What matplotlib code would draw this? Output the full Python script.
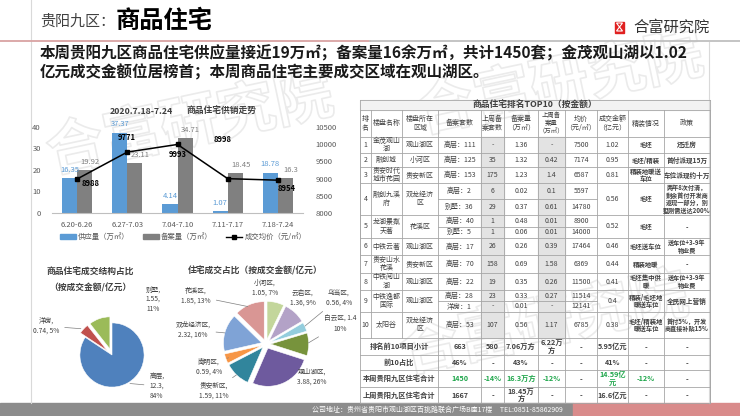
import numpy as np
import matplotlib.pyplot as plt
from matplotlib.patches import Rectangle, Polygon
from matplotlib.lines import Line2D
import matplotlib.patheffects as pe

plt.rcParams['font.family'] = ['Noto Sans CJK SC', 'DejaVu Sans']

# ---- weekly supply / sales trend
weeks = ['6.20-6.26', '6.27-7.03', '7.04-7.10', '7.11-7.17', '7.18-7.24']
supply = [16.35, 37.37, 4.14, 1.07, 18.78]      # 供应量（万㎡）
filed = [19.92, 23.11, 34.71, 18.45, 16.3]      # 备案量（万㎡）
price = [8988, 9771, 9993, 8998, 8954]          # 成交均价（元/㎡）

# ---- deal structure by type (亿元)
type_names = ['高层', '洋房', '别墅']
type_amount = [12.3, 0.74, 1.55]
type_pct = ['84%', '5%', '11%']

# ---- deal share by district (亿元)
dist_names = ['小河区', '云岩区', '乌当区', '白云区', '观山湖区', '贵安新区', '南明区', '双龙经济区', '花溪区']
dist_amount = [1.05, 1.36, 0.56, 1.4, 3.88, 1.59, 0.59, 2.32, 1.85]
dist_pct = ['7%', '9%', '4%', '10%', '26%', '11%', '4%', '16%', '13%']

# ---- TOP10 table
tbl_header = ['排\n名', '楼盘名称', '楼盘所在\n区域', '备案套数', '上周备\n案套数', '备案量\n（万㎡）',
              '上周备\n案量\n（万㎡）', '均价\n（元/㎡）', '成交金额\n（亿元）', '精装情况', '政策']
rank = ['1', '2', '3', '4', '5', '6', '7', '8', '9', '10']
proj = ['金茂观山\n湖', '融创城', '贵安时代\n城市花园', '融创九溪\n府', '龙湖景粼\n天著', '中铁云著',
        '贵安山水\n花溪', '中铁阅山\n湖', '中铁逸都\n国际', '太阳谷']
area = ['观山湖区', '小河区', '贵安新区', '双龙经济\n区', '花溪区', '观山湖区', '贵安新区', '观山湖区',
        '观山湖区', '双龙经济\n区']
units = [['高层：111'], ['高层：125'], ['高层：153'], ['高层：2', '别墅：36'], ['高层：40', '别墅：5'],
         ['高层：17'], ['高层：70'], ['高层：22'], ['高层：28', '洋房：1'], ['高层：53']]
last_units = [['-'], ['35'], ['175'], ['6', '29'], ['1', '1'], ['26'], ['158'], ['19'], ['23', '-'], ['107']]
filed_area = [['1.36'], ['1.32'], ['1.23'], ['0.02', '0.37'], ['0.48', '0.06'], ['0.26'], ['0.69'],
              ['0.35'], ['0.33', '0.01'], ['0.56']]
last_area = [['-'], ['0.42'], ['1.4'], ['0.1', '0.61'], ['0.01', '0.01'], ['0.39'], ['1.58'], ['0.26'],
             ['0.27', '-'], ['1.17']]
avg_price = [['7500'], ['7174'], ['6587'], ['5597', '14780'], ['8900', '14000'], ['17464'], ['6369'],
             ['11500'], ['11514', '12141'], ['6785']]
amount = ['1.02', '0.95', '0.81', '0.56', '0.52', '0.46', '0.44', '0.41', '0.4', '0.38']
finish = ['毛坯', '毛坯/精装', '精装地暖送\n车位', '毛坯', '毛坯', '毛坯送车位', '精装地暖', '毛坯集中供\n暖',
          '精装/毛坯地\n暖送车位', '毛坯/精装地\n暖送车位']
policy = ['还迁房', '首付派现15万', '车位派现约十万', '两年8次付清，\n剩余首付开发商\n返现一部分，别\n墅刚需送达200%',
          '-', '送车位+3-9年\n物业费', '-', '送车位+3-9年\n物业费', '全民网上营销', '首付5%，开发\n商直接补贴15%']
sum_labels = ['排名前10项目小计', '前10占比', '本周贵阳九区住宅合计', '上周贵阳九区住宅合计']
sum_values = [['663', '580', '7.06万方', '6.22万\n方', '-', '5.95亿元', '-', '-'],
              ['46%', '-', '43%', '-', '-', '41%', '-', '-'],
              ['1450', '-14%', '16.3万方', '-12%', '-', '14.59亿\n元', '-12%', '-'],
              ['1667', '-', '18.45万\n方', '-', '-', '16.6亿元', '-', '-']]
sum_green = [[], [], [0, 1, 2, 3, 5, 6], []]

W, H = 740, 416
fig = plt.figure(figsize=(7.4, 4.16), dpi=100)


def ax_px(x0, y0, x1, y1):
    a = fig.add_axes([x0 / W, 1 - y1 / H, (x1 - x0) / W, (y1 - y0) / H])
    a.patch.set_alpha(0)
    return a


bg = ax_px(0, 0, W, H)
bg.set_xlim(0, W)
bg.set_ylim(H, 0)
bg.axis('off')

# faint watermark
for wx, wy in [(190, 125), (560, 85), (545, 325)]:
    bg.text(wx, wy, '合富研究院', fontsize=42, fontweight='bold', color='none', rotation=12,
            ha='center', va='center', zorder=0.2,
            path_effects=[pe.withStroke(linewidth=1.2, foreground='#EBEBEB')])

# header
bg.plot([31, 31], [0, 403], color='#D9D9D9', lw=0.8)
bg.plot([709, 709], [42, 403], color='#D9D9D9', lw=0.8)
bg.plot([0, 370], [40.5, 40.5], color='#D9A3A3', lw=1.3)
bg.plot([370, 740], [40.5, 40.5], color='#BFBFBF', lw=1.3)
bg.text(40, 22, '贵阳九区：', fontsize=10.8, color='#404040', va='center')
bg.text(116, 21, '商品住宅', fontsize=17.5, fontweight='bold', color='black', va='center')
bg.add_patch(Rectangle((615, 21.5), 9, 11, color='#E02020'))
bg.add_patch(Polygon([(616.5, 23), (622.5, 23), (619.5, 27), (622.5, 31), (616.5, 31), (619.5, 27)],
                     closed=True, fc='none', ec='white', lw=0.8))
bg.text(633, 27, '合富研究院', fontsize=11, color='#333333', va='center')
bg.text(40, 53, '本周贵阳九区商品住宅供应量接近19万㎡；备案量16余万㎡，共计1450套；金茂观山湖以1.02',
        fontsize=11.2, fontweight='bold', color='#1A1A1A', va='center')
bg.text(40, 72, '亿元成交金额位居榜首；本周商品住宅主要成交区域在观山湖区。',
        fontsize=11.2, fontweight='bold', color='#1A1A1A', va='center')

# footer
bg.add_patch(Rectangle((0, 403), 573, 13, color='#8C8C8C'))
bg.add_patch(Rectangle((573, 403), 167, 13, color='#D98B8B'))
bg.text(312, 409.5, '公司地址：贵州省贵阳市观山湖区百挑路联合广场B座17楼     TEL:0851-85862909',
        fontsize=5, color='white', va='center')

# ---- trend chart
ax = ax_px(52, 127, 303, 213)
x = np.arange(len(weeks))
ax.bar(x - 0.15, supply, 0.3, color='#5B9BD5')
ax.bar(x + 0.15, filed, 0.3, color='#808080')
ax.set_xlim(-0.5, 4.5)
ax.set_ylim(0, 40)
ax.set_yticks([0, 10, 20, 30, 40])
ax.set_xticks(x)
ax.set_xticklabels(weeks)
for s in ['top', 'left', 'right']:
    ax.spines[s].set_visible(False)
ax.spines['bottom'].set_color('#BFBFBF')
ax.tick_params(length=0, labelsize=5.5, labelcolor='#595959', pad=6)
ax.tick_params(axis='y', pad=8)
for xi, v in zip(x, supply):
    ax.annotate(f'{v}', (xi - 0.15, v), xytext=(0, 3), textcoords='offset points',
                ha='center', va='bottom', fontsize=5.5, color='#5B9BD5')
for xi, v in zip(x, filed):
    ax.annotate(f'{v}', (xi + 0.15, v), xytext=(4, 3), textcoords='offset points',
                ha='center', va='bottom', fontsize=5.5, color='#808080')

ax2 = ax.twinx()
ax2.patch.set_alpha(0)
ax2.plot(x, price, color='black', lw=1.1, marker='s', ms=3.5)
ax2.set_ylim(8000, 10500)
ax2.set_yticks(range(8000, 10501, 500))
for s in ['top', 'left', 'right', 'bottom']:
    ax2.spines[s].set_visible(False)
ax2.tick_params(length=0, labelsize=5.5, labelcolor='#595959', pad=9)
price_offsets = [(14, 4), (-1, -15), (0, 10), (-5, -39), (9, 8)]
for xi, v, (dx, dy) in zip(x, price, price_offsets):
    ax2.annotate(f'{v}', (xi, v), xytext=(dx * 0.72, -dy * 0.72), textcoords='offset points',
                 ha='center', va='center', fontsize=5.5, fontweight='bold', color='black')

bg.text(141, 111, '2020.7.18-7.24', fontsize=6.3, fontweight='bold', color='#404040', ha='center', va='center')
bg.text(222, 111, '商品住宅供销走势', fontsize=6.3, fontweight='bold', color='#404040', ha='center', va='center')
handles = [Rectangle((0, 0), 1, 1, color='#5B9BD5'), Rectangle((0, 0), 1, 1, color='#808080'),
           Line2D([], [], color='black', marker='s', ms=3, lw=1)]
fig.legend(handles, ['供应量（万㎡）', '备案量（万㎡）', '成交均价（元/㎡）'], loc='center',
           bbox_to_anchor=(183 / W, 1 - 237 / H), ncol=3, frameon=False, fontsize=5.3,
           handlelength=2.2, handleheight=0.6, columnspacing=1.8, handletextpad=0.3, labelcolor='#595959')

# ---- pie: type structure
pa = ax_px(112 - 43, 355 - 43, 112 + 43, 355 + 43)
pa.pie(type_amount, colors=['#4F81BD', '#C0504D', '#9BBB59'], startangle=90, counterclock=False,
       explode=[0, 0.2, 0.2], wedgeprops=dict(edgecolor='white', linewidth=0.4))
pa.set_xlim(-1.34, 1.34)
pa.set_ylim(-1.34, 1.34)
pa.set_aspect('equal')
bg.text(90, 272, '商品住宅成交结构占比', fontsize=6.3, fontweight='bold', color='#404040', ha='center', va='center')
bg.text(90, 288, '（按成交金额/亿元）', fontsize=6.3, fontweight='bold', color='#404040', ha='center', va='center')
type_label_pos = [(157, 386), (46, 326), (153, 299)]
type_label_text = [f'{type_names[0]},\n{type_amount[0]},\n{type_pct[0]}',
                   f'{type_names[1]},\n{type_amount[1]}, {type_pct[1]}',
                   f'{type_names[2]},\n{type_amount[2]},\n{type_pct[2]}']
type_leader = [True, True, False]
fr = np.cumsum([0] + type_amount) / sum(type_amount)
expl = [0, 0.2, 0.2]
for i in range(3):
    ang = np.deg2rad(90 - 360 * (fr[i] + fr[i + 1]) / 2)
    rr = 1 + expl[i]
    ap = dict(arrowstyle='-', color='#7F7F7F', lw=0.5) if type_leader[i] else None
    pa.annotate(type_label_text[i], (rr * np.cos(ang), rr * np.sin(ang)),
                xytext=(type_label_pos[i][0], H - type_label_pos[i][1]), textcoords='figure pixels',
                ha='center', va='center', fontsize=4.8, color='#404040', arrowprops=ap,
                linespacing=1.3, annotation_clip=False)

# ---- pie: district share
pb = ax_px(266 - 45, 344 - 45, 266 + 45, 344 + 45)
dist_colors = ['#C3D69B', '#B3A2C7', '#93CDDD', '#77933C', '#6E5A9E', '#31859C', '#F79646', '#7FA3D6', '#D99694']
pb.pie(dist_amount, colors=dist_colors, startangle=90, counterclock=False, explode=[0.12] * 9,
       wedgeprops=dict(edgecolor='white', linewidth=0.4))
pb.set_xlim(-1.18, 1.18)
pb.set_ylim(-1.18, 1.18)
pb.set_aspect('equal')
bg.text(255, 271, '住宅成交占比（按成交金额/亿元）', fontsize=6.3, fontweight='bold', color='#404040',
        ha='center', va='center')
dist_label_text = [f'{n},\n{a}, {p}' for n, a, p in zip(dist_names, dist_amount, dist_pct)]
dist_label_text[3] = f'{dist_names[3]}, {dist_amount[3]}\n{dist_pct[3]}'
dist_label_pos = [(265, 288), (303, 298), (339, 298), (340, 324), (312, 377), (214, 391), (209, 367),
                  (193, 330), (196, 296)]
dist_leader = [False, False, True, True, False, True, True, True, True]
fr = np.cumsum([0] + dist_amount) / sum(dist_amount)
for i in range(len(dist_names)):
    ang = np.deg2rad(90 - 360 * (fr[i] + fr[i + 1]) / 2)
    ap = dict(arrowstyle='-', color='#7F7F7F', lw=0.5) if dist_leader[i] else None
    pb.annotate(dist_label_text[i], (1.05 * np.cos(ang), 1.05 * np.sin(ang)),
                xytext=(dist_label_pos[i][0], H - dist_label_pos[i][1]), textcoords='figure pixels',
                ha='center', va='center', fontsize=4.8, color='#404040', arrowprops=ap,
                linespacing=1.3, annotation_clip=False)

# ---- table
col_x = [360, 371, 402, 438, 481, 504, 538, 565, 597, 628, 664, 710]
row_y = [137, 153, 167, 183, 215, 238, 255, 273, 290, 312, 338]
sum_y = [338, 355, 370, 387, 403]
lc = '#A6A6A6'
tc = '#404040'


def cxm(i):
    return (col_x[i] + col_x[i + 1]) / 2


def put(x, y, s, size=5, bold=False, color=tc):
    bg.text(x, y, s, ha='center', va='center', fontsize=size, color=color,
            fontweight='bold' if bold else 'normal', linespacing=1.05)


# shaded "last week" columns
for c in (4, 6):
    bg.add_patch(Rectangle((col_x[c], row_y[0]), col_x[c + 1] - col_x[c], row_y[-1] - row_y[0],
                           color='#E3E3E3', zorder=0.5))
bg.add_patch(Rectangle((360, 100), 350, 10, color='#F2F2F2', zorder=0.5))

# grid
for y in [100, 110] + row_y + sum_y[1:]:
    bg.plot([360, 710], [y, y], color=lc, lw=0.6)
for xc in col_x:
    bg.plot([xc, xc], [110, 338], color=lc, lw=0.6)
for xc in [360, 710]:
    bg.plot([xc, xc], [100, 403], color=lc, lw=0.6)
for xc in col_x[3:]:
    bg.plot([xc, xc], [338, 403], color=lc, lw=0.6)

put(535, 105, '商品住宅排名TOP10（按金额）', size=6.3, bold=True)
for c, h in enumerate(tbl_header):
    put(cxm(c), (110 + 137) / 2, h, size=5 if c != 6 else 4.6)

for r in range(len(rank)):
    y0, y1 = row_y[r], row_y[r + 1]
    ym = (y0 + y1) / 2
    put(cxm(0), ym, rank[r])
    put(cxm(1), ym, proj[r])
    put(cxm(2), ym, area[r])
    put(cxm(8), ym, amount[r])
    put(cxm(9), ym, finish[r], size=4.6, bold=True)
    put(cxm(10), ym, policy[r], size=4.4 if '\n' in policy[r] else 4.8, bold=True)
    n = len(units[r])
    hs = (y1 - y0) / n
    for k in range(n):
        yk = y0 + hs * (k + 0.5)
        for c, col in zip(range(3, 8), [units, last_units, filed_area, last_area, avg_price]):
            put(cxm(c), yk, col[r][k])
        if k > 0:
            bg.plot([col_x[3], col_x[8]], [y0 + hs * k] * 2, color=lc, lw=0.6)

for r, lab in enumerate(sum_labels):
    ym = (sum_y[r] + sum_y[r + 1]) / 2
    put((col_x[0] + col_x[3]) / 2, ym, lab, size=5.2, bold=True)
    for k, v in enumerate(sum_values[r]):
        col = '#1FA64B' if k in sum_green[r] else tc
        put(cxm(k + 3), ym, v, size=5.2, bold=True, color=col)

fig.savefig('out.png', dpi=100, facecolor='white')
